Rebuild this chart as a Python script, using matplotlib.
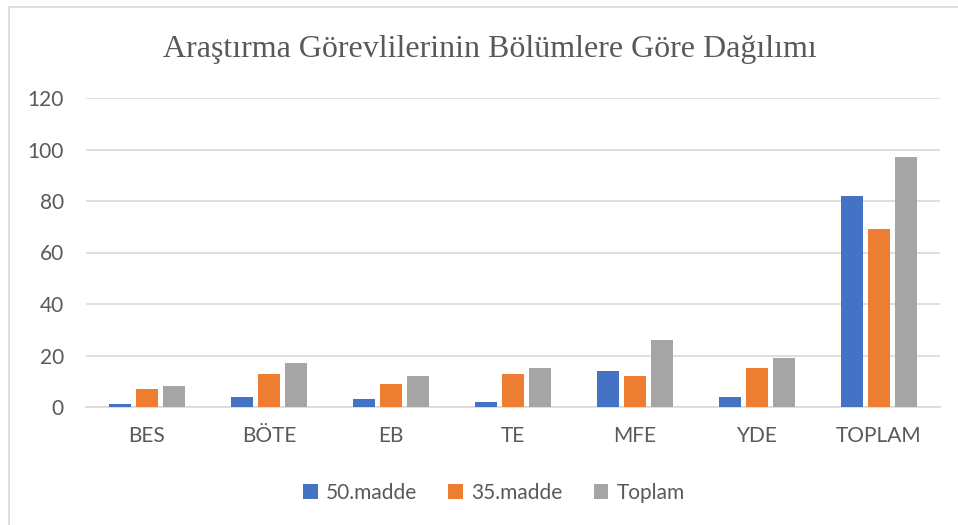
import numpy as np
import matplotlib.pyplot as plt
from matplotlib.patches import Rectangle

categories = ["BES", "BÖTE", "EB", "TE", "MFE", "YDE", "TOPLAM"]
madde50 = [1, 4, 3, 2, 14, 4, 82]
madde35 = [7, 13, 9, 13, 12, 15, 69]
toplam = [8, 17, 12, 15, 26, 19, 97]

series = [("50.madde", madde50, "#4472C4"),
          ("35.madde", madde35, "#ED7D31"),
          ("Toplam", toplam, "#A5A5A5")]

plt.rcParams["font.family"] = ["Lato", "DejaVu Sans"]
text_color = "#595959"

fig = plt.figure(figsize=(9.58, 5.25), dpi=100)
ax = fig.add_axes([86 / 958, 1 - 407 / 525, (940 - 86) / 958, (407 - 98) / 525])

# outer chart border
fig.patches.append(Rectangle((9 / 958, -0.05), 1.2, 1 - 7 / 525 + 0.05,
                             transform=fig.transFigure, fill=False,
                             edgecolor="#D9D9D9", linewidth=1.2))

x = np.arange(len(categories))
width = 0.175
step = 0.22
for i, (name, vals, color) in enumerate(series):
    ax.bar(x + (i - 1) * step, vals, width, color=color, label=name, zorder=3)

ax.set_xlim(-0.5, len(categories) - 0.5)
ax.set_ylim(0, 120)
ax.set_yticks(range(0, 121, 20))
ax.set_xticks(x)
ax.set_xticklabels(categories)
ax.grid(axis="y", color="#D9D9D9", linewidth=1.2, zorder=0)
for s in ["top", "right", "left"]:
    ax.spines[s].set_visible(False)
ax.spines["bottom"].set_color("#D9D9D9")
ax.spines["bottom"].set_linewidth(1.2)
ax.tick_params(axis="y", length=0, pad=16, labelsize=15, labelcolor=text_color)
ax.tick_params(axis="x", length=0, pad=14, labelsize=15, labelcolor=text_color)

fig.text(490 / 958, 1 - 49 / 525, "Araştırma Görevlilerinin Bölümlere Göre Dağılımı",
         ha="center", va="center", fontsize=23, color=text_color,
         family=["Liberation Serif", "DejaVu Serif"])

fig.legend(loc="center", bbox_to_anchor=(494 / 958, 1 - 493 / 525), ncol=3,
           frameon=False, fontsize=15, handlelength=0.7, handleheight=0.7,
           handletextpad=0.4, columnspacing=1.5, labelcolor=text_color)

fig.savefig("out.png", dpi=100)
